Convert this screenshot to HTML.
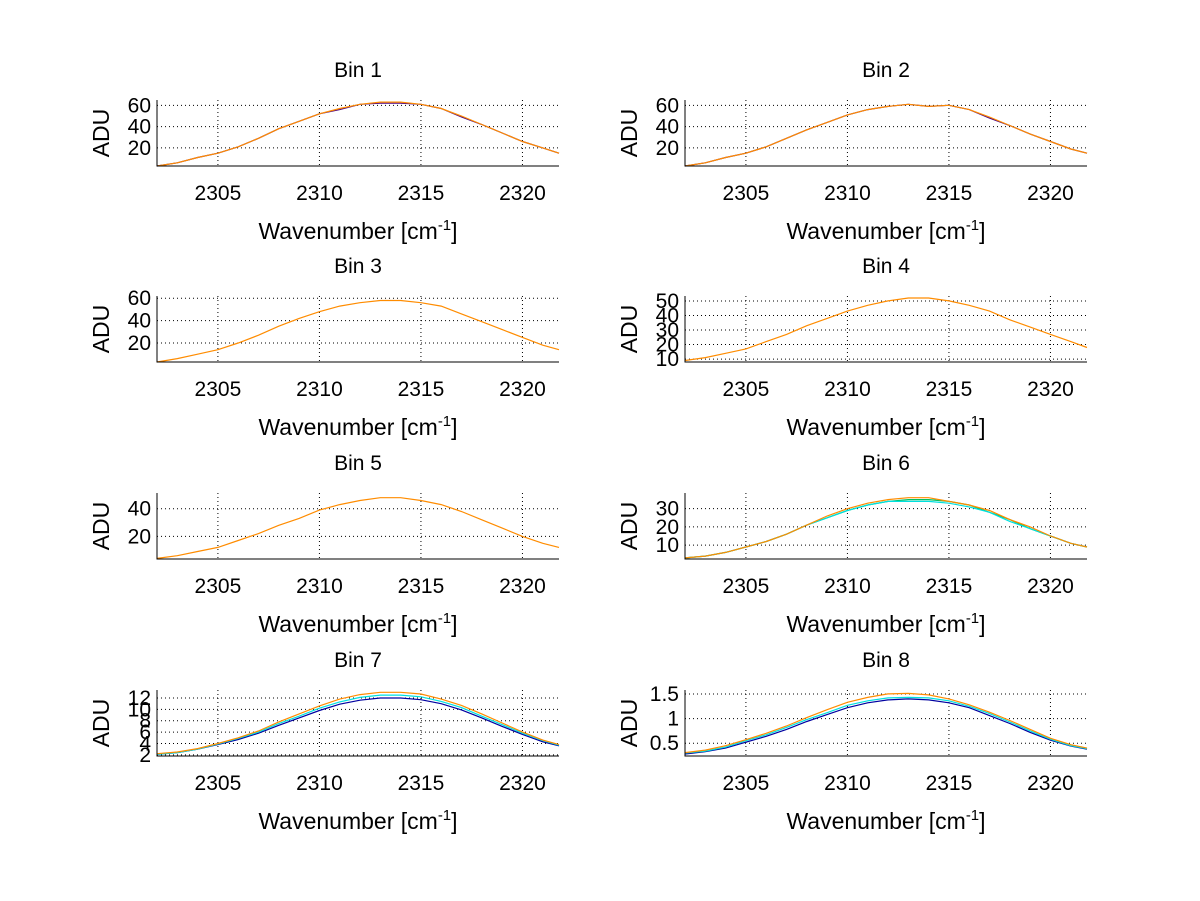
<!DOCTYPE html>
<html><head><meta charset="utf-8"><style>
body{margin:0;background:#fff;}
svg{display:block;font-family:"Liberation Sans",sans-serif;}
</style></head><body>
<svg id="fig" width="1200" height="901" viewBox="0 0 1200 901"></svg>
<script>
const wn = [2302,2303,2304,2305,2306,2307,2308,2309,2310,2311,2312,2313,2314,2315,2316,2317,2318,2319,2320,2321,2321.8];
const xTicks = [2305,2310,2315,2320];
const bin1Orange = [3,6,11,15,21,29,38,45,52,57,61,63,63,61,57,50,42,34,26,20,15];
const bin1Purple = [3,6,11,15,21,29,38,45,52,56,61,62,62,61,57,49,42,34,26,20,15];
const bin2Orange = [3,6,11,15,21,29,37,44,51,56,59,61,59,60,56,49,41,33,26,19,15];
const bin2Purple = [3,6,11,15,21,29,37,44,51,56,59,61,59,60,56,48,41,33,26,19,15];
const bin3Orange = [3,6,10,14,20,27,35,42,48,53,56,58,58,56,53,46,39,32,25,18,14];
const bin4Orange = [9,11,14,17,22,27,33,38,43,47,50,52,52,50,47,43,37,32,27,22,18];
const bin5Orange = [4,6,9,12,17,22,28,33,39,43,46,48,48,46,43,38,32,26,20,15,12];
const bin6Green  = [3,4,6,9,12,16,21,25,29,32,34,35,35,34,32,28,24,19,15,11,9];
const bin6Cyan   = [3,4,6,9,12,16,21,25,29,32,34,34,34,33,31,28,23,19,15,11,9];
const bin6Orange = [3,4,6,9,12,16,21,26,30,33,35,36,36,34,32,29,24,20,15,11,9];
const bin7Blue   = [2.1,2.4,3.0,3.8,4.7,5.8,7.2,8.5,9.8,10.9,11.6,12.0,12.0,11.7,11.0,9.9,8.5,7.0,5.6,4.3,3.6];
const bin7Cyan   = [2.1,2.4,3.0,3.9,4.9,6.0,7.5,8.8,10.2,11.3,12.1,12.5,12.5,12.2,11.4,10.3,8.8,7.3,5.8,4.5,3.7];
const bin7Orange = [2.2,2.5,3.1,4.0,5.0,6.2,7.8,9.2,10.6,11.8,12.6,13.0,13.0,12.7,11.8,10.7,9.2,7.6,6.0,4.6,3.8];
const bin8Blue   = [0.28,0.33,0.40,0.52,0.64,0.78,0.94,1.08,1.22,1.32,1.38,1.40,1.38,1.32,1.22,1.06,0.90,0.72,0.56,0.44,0.38];
const bin8Cyan   = [0.30,0.34,0.42,0.55,0.67,0.82,0.98,1.12,1.27,1.36,1.42,1.43,1.42,1.36,1.25,1.10,0.93,0.75,0.58,0.45,0.39];
const bin8Orange = [0.31,0.36,0.45,0.57,0.70,0.85,1.02,1.18,1.33,1.43,1.50,1.51,1.48,1.40,1.28,1.13,0.96,0.78,0.60,0.47,0.40];

const panels = [
 {t:"Bin 1",yl:[3,65],yt:[20,40,60],s:[["#4b0082",bin1Purple],["#ff8c00",bin1Orange]]},
 {t:"Bin 2",yl:[3,65],yt:[20,40,60],s:[["#4b0082",bin2Purple],["#ff8c00",bin2Orange]]},
 {t:"Bin 3",yl:[3,62],yt:[20,40,60],s:[["#ff8c00",bin3Orange]]},
 {t:"Bin 4",yl:[8,53.4],yt:[10,20,30,40,50],s:[["#ff8c00",bin4Orange]]},
 {t:"Bin 5",yl:[3.6,51.4],yt:[20,40],s:[["#ff8c00",bin5Orange]]},
 {t:"Bin 6",yl:[2.4,38.6],yt:[10,20,30],s:[["#00c060",bin6Green],["#00e0e0",bin6Cyan],["#ff8c00",bin6Orange]]},
 {t:"Bin 7",yl:[1.8,13.4],yt:[2,4,6,8,10,12],s:[["#0000a0",bin7Blue],["#00e0e0",bin7Cyan],["#ff8c00",bin7Orange]]},
 {t:"Bin 8",yl:[0.24,1.58],yt:[0.5,1,1.5],s:[["#0000a0",bin8Blue],["#00e0e0",bin8Cyan],["#ff8c00",bin8Orange]]}
];
const NS="http://www.w3.org/2000/svg";
const svg=document.getElementById('fig');
function mk(tag,attrs,parent){const e=document.createElementNS(NS,tag);for(const k in attrs)e.setAttribute(k,attrs[k]);(parent||svg).appendChild(e);return e;}
const colX=[157,685], rowTop=[100,296,493,690], W=402, H=66, XMIN=2302, XMAX=2321.8;
panels.forEach((p,i)=>{
 const L=colX[i%2], T=rowTop[Math.floor(i/2)], B=T+H, R=L+W;
 const g=mk('g',{});
 
 
 const xs=v=>L+(v-XMIN)/(XMAX-XMIN)*W;
 const ys=v=>B-(v-p.yl[0])/(p.yl[1]-p.yl[0])*H;
 xTicks.forEach(v=>{
  const x=xs(v);
  const gl=mk('line',{x1:x,x2:x,y1:T,y2:B,stroke:'#000','stroke-width':1,'stroke-dasharray':'1,3'},g);
  
  
  const tl=mk('text',{x:x,y:B+34,'font-size':21,'text-anchor':'middle'},g);
  tl.textContent=v;
  
  
 });
 p.yt.forEach(v=>{
  const y=ys(v);
  const gl=mk('line',{x1:L,x2:R,y1:y,y2:y,stroke:'#000','stroke-width':1,'stroke-dasharray':'1,3'},g);
  
  
  const tl=mk('text',{x:L-6,y:y+7,'font-size':21,'text-anchor':'end'},g);
  tl.textContent=v;
  
  
 });
 p.s.forEach(([c,d])=>{
  const pts=d.map((v,k)=>xs(wn[k]).toFixed(1)+','+ys(v).toFixed(1)).join(' ');
  const pl=mk('polyline',{points:pts,fill:'none',stroke:c,'stroke-width':1.2},g);
  
  
 });
 const ax=mk('path',{d:`M${L},${T} L${L},${B} L${R},${B}`,fill:'none',stroke:'#000','stroke-width':1},g);
 
 
 const tt=mk('text',{x:L+W/2,y:T-23,'font-size':21,'text-anchor':'middle'},g);
 tt.textContent=p.t;
 
 
 const yl=mk('text',{x:0,y:0,'font-size':23,'text-anchor':'middle',transform:`translate(${L-48},${T+H/2}) rotate(-90)`},g);
 yl.textContent='ADU';
 
 
 const xl=mk('text',{x:L+W/2,y:B+73,'font-size':23,'text-anchor':'middle'},g);
 xl.innerHTML='Wavenumber [cm<tspan dy="-9" font-size="15">-1</tspan><tspan dy="9">]</tspan>';
 
 
});
</script>
</body></html>
